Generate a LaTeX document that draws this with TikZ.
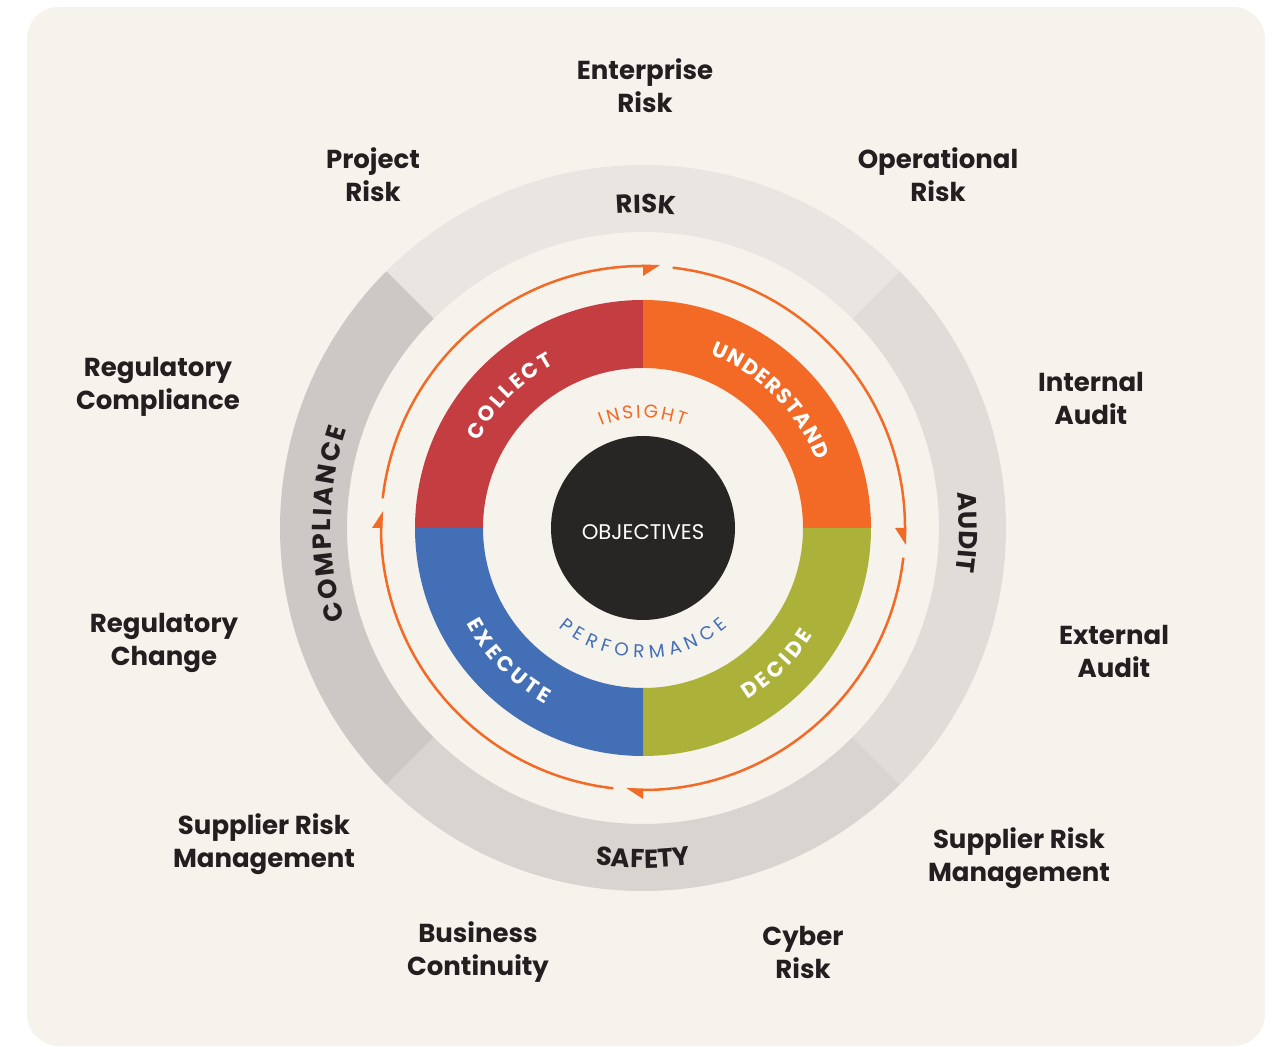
\documentclass[tikz,border=0pt]{standalone}
\usepackage{fontspec}
\setmainfont{Poppins}
\usetikzlibrary{calc,decorations.text}
\definecolor{bgc}{HTML}{F6F2EC}
\definecolor{ringA}{HTML}{E9E5E1}
\definecolor{ringB}{HTML}{E0DCD8}
\definecolor{ringC}{HTML}{D8D5D0}
\definecolor{ringD}{HTML}{CCC8C5}
\definecolor{cred}{HTML}{C43D40}
\definecolor{corange}{HTML}{F26A25}
\definecolor{cgreen}{HTML}{ACB239}
\definecolor{cblue}{HTML}{426FB5}
\definecolor{cblack}{HTML}{282624}
\definecolor{dark}{HTML}{231F20}
% #1 colour, #2 start angle, #3 end angle, #4 inner radius, #5 outer radius
\newcommand\ringsector[5]{%
  \fill[#1] ($(c)+(#2:#5pt)$) arc[start angle=#2, end angle=#3, radius=#5pt]
    -- ($(c)+(#3:#4pt)$) arc[start angle=#3, end angle=#2, radius=#4pt] -- cycle;
}
% #1 baseline radius, #2 start angle, #3 end angle, #4 alignment, #5 colour, #6 text
\newcommand\arctext[6]{%
  \path[decorate, decoration={text along path, text={#6}, text align={#4}, text color=#5}]
    ($(c)+(#2:#1pt)$) arc[start angle=#2, end angle=#3, radius=#1pt];
}
\newcommand\ringfont{\fontsize{21}{21}\selectfont\bfseries}
\newcommand\thinfont{\fontsize{18.5}{18.5}\selectfont}
\newcommand\outerfont{\fontsize{26}{26}\selectfont\bfseries}
\tikzset{
  lab/.style={font=\fontsize{26}{33}\selectfont\bfseries, text=dark, align=center, inner sep=0pt},
  cyc/.style={draw=corange, line width=2.5pt},
  tip/.style={fill=corange}
}
\begin{document}
\begin{tikzpicture}[x=1pt,y=1pt]
\useasboundingbox (0,0) rectangle (1276,1046);
\fill[white] (0,0) rectangle (1276,1046);
\fill[bgc, rounded corners=32pt] (27,0) rectangle (1265,1039);
\coordinate (c) at (643,518);
% outer ring
\ringsector{ringA}{45}{135}{296}{363}
\ringsector{ringB}{-45}{45}{296}{363}
\ringsector{ringC}{-135}{-45}{296}{363}
\ringsector{ringD}{135}{225}{296}{363}
% cycle arrows
\draw[cyc] ($(c)+(173.5:262pt)$) arc[start angle=173.5, end angle=90, radius=262pt];
\draw[cyc] ($(c)+(83.5:262pt)$) arc[start angle=83.5, end angle=0, radius=262pt];
\draw[cyc] ($(c)+(-6.5:262pt)$) arc[start angle=-6.5, end angle=-90, radius=262pt];
\draw[cyc] ($(c)+(-96.5:262pt)$) arc[start angle=-96.5, end angle=-180, radius=262pt];
\fill[tip] ($(c)+(90:263.5pt)$) -- ($(c)+(86.3:263.5pt)$) -- ($(c)+(90:252pt)$) -- cycle;
\fill[tip] ($(c)+(0:263.5pt)$) -- ($(c)+(-3.7:263.5pt)$) -- ($(c)+(0:252pt)$) -- cycle;
\fill[tip] ($(c)+(270:260.5pt)$) -- ($(c)+(266.3:260.5pt)$) -- ($(c)+(270:271pt)$) -- cycle;
\fill[tip] ($(c)+(180:260.5pt)$) -- ($(c)+(176.3:260.5pt)$) -- ($(c)+(180:271pt)$) -- cycle;
% coloured ring
\ringsector{cred}{90}{180}{160}{228}
\ringsector{corange}{0}{90}{160}{228}
\ringsector{cgreen}{-90}{0}{160}{228}
\ringsector{cblue}{180}{270}{160}{228}
% centre
\fill[cblack] (c) circle[radius=92pt];
\node[font=\fontsize{21.2}{21.2}\selectfont, text=white, inner sep=0pt] (obj) at (643,514) {OBJECTIVES};
% curved texts in the coloured ring
\arctext{186}{152.2}{118.6}{fit to path}{white}{|\ringfont|COLLECT}
\arctext{186}{68.8}{21.2}{fit to path}{white}{|\ringfont|UNDERSTAND}
\arctext{201}{-58.7}{-32.3}{fit to path}{white}{|\ringfont|DECIDE}
\arctext{201}{-151.5}{-119}{fit to path}{white}{|\ringfont|EXECUTE}
\arctext{110}{112}{68}{fit to path}{corange}{|\thinfont|INSIGHT}
\arctext{130}{-130.3}{-49.2}{fit to path}{cblue}{|\thinfont|PERFORMANCE}
% outer ring texts
\arctext{315}{110}{69}{center}{dark}{|\outerfont|RISK}
\arctext{316}{20}{-21.6}{center}{dark}{|\outerfont|AUDIT}
\arctext{340}{-115}{-65}{center}{dark}{|\outerfont|SAFETY}
\arctext{312}{197}{161.5}{fit to path}{dark}{|\outerfont|COMPLIANCE}
% labels
\node[lab] (ent) at (645,960) {Enterprise\\Risk};
\node[lab] (proj) at (373,871) {Project\\Risk};
\node[lab] (oper) at (938,871) {Operational\\Risk};
\node[lab] (regc) at (158,659) {Regulatory\\Compliance};
\node[lab] (inta) at (1091,648) {Internal\\Audit};
\node[lab] (regch) at (164,403) {Regulatory\\Change};
\node[lab] (exta) at (1114,395) {External\\Audit};
\node[lab] (supl) at (264,202) {Supplier Risk\\Management};
\node[lab] (supr) at (1019,188) {Supplier Risk\\Management};
\node[lab] (bus) at (478,94) {Business\\Continuity};
\node[lab] (cyb) at (803,94) {Cyber\\Risk};
\end{tikzpicture}
\end{document}
